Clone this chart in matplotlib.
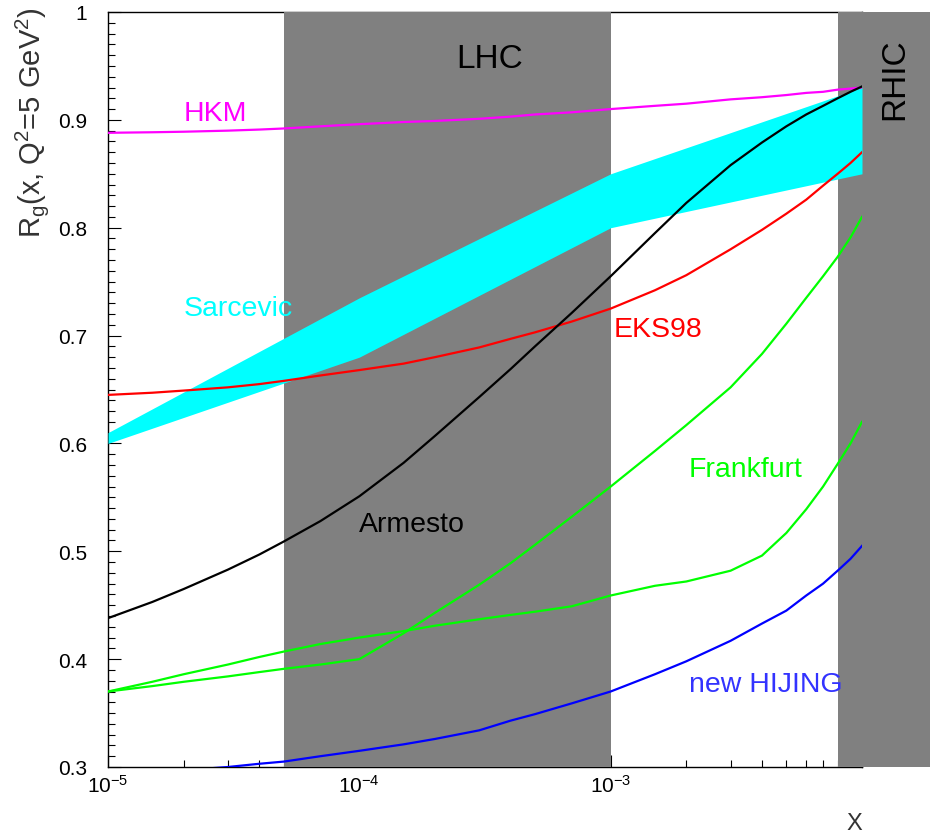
import numpy as np
from matplotlib import pyplot as plt
from matplotlib.ticker import MultipleLocator, FuncFormatter, LogLocator, NullFormatter

# x values (log scale) shared by the model curves
x_grid = [1e-5, 1.5e-5, 2e-5, 3e-5, 4e-5, 5e-5, 7e-5,
          1e-4, 1.5e-4, 2e-4, 3e-4, 4e-4, 5e-4, 7e-4,
          1e-3, 1.5e-3, 2e-3, 3e-3, 4e-3, 5e-3, 6e-3, 7e-3, 8e-3, 9e-3, 1e-2]

hkm = [0.888, 0.8885, 0.889, 0.890, 0.891, 0.892, 0.894,
       0.896, 0.898, 0.899, 0.901, 0.903, 0.905, 0.907,
       0.910, 0.913, 0.915, 0.919, 0.921, 0.923, 0.925, 0.926, 0.928, 0.929, 0.930]
eks98 = [0.645, 0.647, 0.649, 0.652, 0.655, 0.658, 0.663,
         0.668, 0.674, 0.680, 0.689, 0.697, 0.703, 0.713,
         0.725, 0.742, 0.756, 0.780, 0.798, 0.813, 0.826, 0.839, 0.850, 0.860, 0.870]
armesto = [0.438, 0.453, 0.465, 0.483, 0.497, 0.509, 0.528,
           0.551, 0.582, 0.607, 0.643, 0.669, 0.690, 0.721,
           0.755, 0.795, 0.823, 0.858, 0.879, 0.894, 0.905, 0.913, 0.920, 0.926, 0.931]
frankfurt_a = [0.370, 0.375, 0.379, 0.384, 0.388, 0.391, 0.395,
               0.400, 0.424, 0.443, 0.469, 0.489, 0.506, 0.532,
               0.560, 0.593, 0.617, 0.652, 0.683, 0.711, 0.735, 0.755, 0.773, 0.791, 0.810]
frankfurt_b = [0.370, 0.379, 0.386, 0.395, 0.402, 0.407, 0.414,
               0.420, 0.426, 0.431, 0.437, 0.441, 0.444, 0.449,
               0.459, 0.468, 0.472, 0.482, 0.496, 0.517, 0.539, 0.560, 0.581, 0.600, 0.620]
hijing = [0.291, 0.294, 0.297, 0.300, 0.303, 0.305, 0.310,
          0.315, 0.321, 0.326, 0.334, 0.343, 0.349, 0.359,
          0.370, 0.386, 0.398, 0.417, 0.433, 0.445, 0.459, 0.470, 0.482, 0.493, 0.505]

# Sarcevic band
x_sar = [1e-5, 1e-4, 1e-3, 1e-2]
sar_low = [0.600, 0.680, 0.800, 0.850]
sar_high = [0.610, 0.735, 0.850, 0.930]

# kinematic regions
lhc_range = [5e-5, 1e-3]
rhic_range = [8e-3, 5e-2]

plt.rcParams['font.family'] = ['Liberation Sans', 'DejaVu Sans']
plt.rcParams['mathtext.default'] = 'regular'

GREEN = '#00ff00'


def main():
    fig, ax = fig_setup()

    ax.axvspan(lhc_range[0], lhc_range[1], color='#808080', lw=0, zorder=3)
    ax.axvspan(rhic_range[0], rhic_range[1], color='#808080', lw=0, zorder=3,
               clip_on=False)

    ax.fill_between(x_sar, sar_low, sar_high, color='#00ffff', lw=0, zorder=3.5)

    curves = [(hkm, '#ff00ff'), (eks98, '#ff0000'), (armesto, 'k'),
              (frankfurt_a, GREEN), (frankfurt_b, GREEN),
              (hijing, '#0000ff')]
    for yy, col in curves:
        ax.plot(x_grid, yy, color=col, lw=1.6, zorder=4)

    fs = 20.5
    ax.text(2e-5, 0.900, 'HKM', color='#ff00ff', fontsize=fs, zorder=5)
    ax.text(2e-5, 0.719, 'Sarcevic', color='#00ffff', fontsize=fs, zorder=5)
    ax.text(1.03e-3, 0.700, 'EKS98', color='#ff0000', fontsize=fs, zorder=5)
    ax.text(1e-4, 0.519, 'Armesto', color='k', fontsize=fs, zorder=5)
    ax.text(2.05e-3, 0.570, 'Frankfurt', color=GREEN, fontsize=fs, zorder=5)
    ax.text(2.05e-3, 0.370, 'new HIJING', color='#3333ff', fontsize=fs, zorder=5)

    ax.text(3.3e-4, 0.949, 'LHC', color='k', fontsize=24, ha='center',
            zorder=5)
    ax.text(1.044, 0.9126, 'RHIC', color='k', fontsize=24, rotation=90,
            ha='center', va='center', transform=ax.transAxes, zorder=5,
            clip_on=False)

    fig.savefig('out.png', dpi=100)


def x_label(v, pos):
    # the 10^-2 label is hidden in the original
    if v > 5e-3:
        return ''
    return r'$10^{%d}$' % round(np.log10(v))


def fig_setup():
    fig = plt.figure(figsize=(9.3, 8.37), dpi=100)
    ax = fig.add_axes([108 / 930, 69 / 837, 754 / 930, 755 / 837])
    ax.set_xscale('log')
    ax.set_xlim(1e-5, 1e-2)
    ax.set_ylim(0.3, 1.0)

    ax.yaxis.set_major_locator(MultipleLocator(0.1))
    ax.yaxis.set_minor_locator(MultipleLocator(0.01))
    ax.yaxis.set_major_formatter(FuncFormatter(lambda v, p: '%g' % round(v, 2)))
    ax.xaxis.set_major_locator(LogLocator(base=10))
    ax.xaxis.set_minor_locator(LogLocator(base=10, subs=np.arange(2, 10)))
    ax.xaxis.set_major_formatter(FuncFormatter(x_label))
    ax.xaxis.set_minor_formatter(NullFormatter())

    ax.tick_params(which='both', direction='in', top=False, right=False,
                   labelsize=15, width=0.8)
    ax.tick_params(axis='y', which='both', pad=15)
    ax.tick_params(axis='x', which='both', pad=5)
    ax.tick_params(which='major', length=9)
    ax.tick_params(which='minor', length=5)
    for sp in ax.spines.values():
        sp.set_linewidth(1.0)

    ax.set_ylabel(r'R$_g$(x, Q$^2$=5 GeV$^2$)', fontsize=21, loc='top',
                  color='#333333')
    ax.yaxis.set_label_coords(-0.075, 1.008)
    ax.set_xlabel('X', fontsize=17, loc='right', color='#333333')
    ax.xaxis.set_label_coords(1.0, -0.06)
    return fig, ax


main()
